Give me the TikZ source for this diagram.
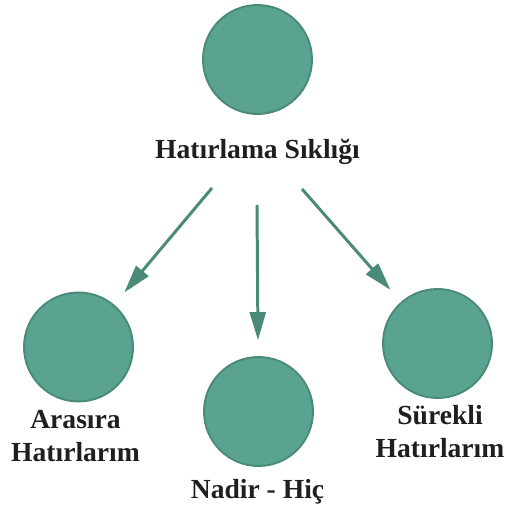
\documentclass[tikz,border=0pt]{standalone}
\usepackage{fontspec}
\setmainfont{Liberation Serif}
\usetikzlibrary{arrows.meta,positioning}
\definecolor{tealfill}{HTML}{5AA391}
\definecolor{tealdraw}{HTML}{4A8A78}

\begin{document}
\begin{tikzpicture}[
      x=0.02cm, y=-0.02cm,
      mycircle/.style={
         circle,
         draw=tealdraw,
         fill=tealfill,
         line width=1.1pt,
         inner sep=0pt,
         minimum size=2.18cm},
      mylabel/.style={
         font=\bfseries\fontsize{15.7}{18.7}\selectfont,
         text=black!88,
         align=center,
         inner sep=0pt},
      myarrow/.style={-{Triangle[length=16pt,width=9pt]},draw=tealdraw,line width=1.7pt,shorten >=9pt},
      node distance=0.48cm
      ]
      \useasboundingbox (0,0) rectangle (506,510);
      \node[mycircle] (top) at (257.5,59.5) {};
      \node[mylabel,below=of top] (title) {Hatırlama Sıklığı};
      \node[mycircle] (arasira) at (78.5,347) {};
      \node[mycircle] (nadir) at (258.5,411.5) {};
      \node[mycircle] (surekli) at (437.5,343.5) {};
      % base = last line
      \node[mylabel,anchor=base] (arasiralbl) at (75.5,461.5) {Arasıra\\Hatırlarım};
      \node[mylabel,anchor=base] (nadirlbl) at (257.5,498) {Nadir - Hiç};
      \node[mylabel,anchor=base] (sureklilbl) at (440,457.5) {Sürekli\\Hatırlarım};
      % arrow starts under the title
      \coordinate (s1) at (212,188);
      \coordinate (s2) at (257,205);
      \coordinate (s3) at (302,189);

    \foreach \i/\j in {s1/arasira, s2/nadir, s3/surekli}
       \draw [myarrow] (\i) -- (\j);

    \end{tikzpicture}
\end{document}
